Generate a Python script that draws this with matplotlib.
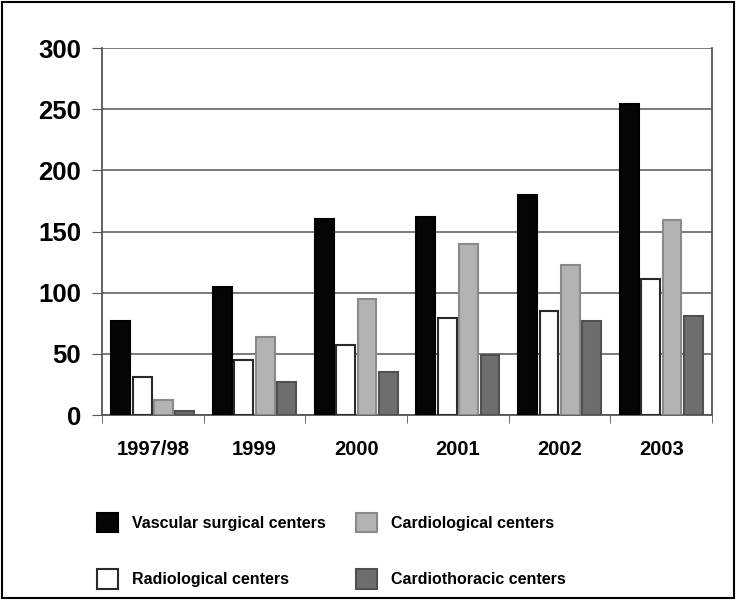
import numpy as np
import matplotlib.pyplot as plt
from matplotlib.patches import Rectangle

plt.rcParams['font.family'] = ['Liberation Sans', 'DejaVu Sans']
plt.rcParams['font.weight'] = 'bold'

years = ['1997/98', '1999', '2000', '2001', '2002', '2003']
series_names = ['Vascular surgical centers', 'Radiological centers',
                'Cardiological centers', 'Cardiothoracic centers']
vascular = [77, 105, 160, 162, 180, 254]
radiological = [31, 45, 57, 79, 85, 111]
cardiological = [12, 64, 95, 140, 123, 159]
cardiothoracic = [3, 27, 35, 49, 77, 81]
y_ticks = [0, 50, 100, 150, 200, 250, 300]

colors = ['#050505', '#ffffff', '#b3b3b3', '#6e6e6e']
edges = ['#000000', '#2a2a2a', '#8a8a8a', '#505050']

fig = plt.figure(figsize=(7.36, 6.0), dpi=100)
ax = fig.add_axes([0.1386, 0.3083, 0.829, 0.6117])

x = np.arange(len(years))
width = 0.185
step = 0.21
handles = []
for i, (vals, c, e) in enumerate(zip([vascular, radiological, cardiological, cardiothoracic], colors, edges)):
    b = ax.bar(x + (i - 1.5) * step, vals, width, color=c, edgecolor=e,
               linewidth=1.5, label=series_names[i], zorder=3)
    handles.append(b)

ax.set_xlim(-0.5, len(years) - 0.5)
ax.set_ylim(0, 300)
ax.set_yticks(y_ticks)
ax.set_yticklabels([str(t) for t in y_ticks], fontsize=18.5, fontweight='bold')
ax.set_xticks(x)
ax.set_xticklabels(years, fontsize=14.5, fontweight='bold')
ax.set_xticks(np.arange(-0.5, len(years)), minor=True)
ax.tick_params(axis='x', which='major', length=0, pad=18)
ax.tick_params(axis='x', which='minor', length=6, color='#555555')
ax.tick_params(axis='y', length=7, color='#555555', pad=8)
ax.yaxis.grid(True, color='#707070', linewidth=1.3, zorder=0)

ax.spines['top'].set_visible(False)
for s in ['left', 'right', 'bottom']:
    ax.spines[s].set_color('#555555')
    ax.spines[s].set_linewidth(1.3)

fig.legend(handles=handles, labels=series_names, ncol=2, frameon=False,
           loc='upper left', bbox_to_anchor=(97 / 736, 1 - 513 / 600),
           borderpad=0, borderaxespad=0,
           fontsize=11.5, handlelength=1.3, handleheight=1.5,
           columnspacing=1.9, labelspacing=2.3, handletextpad=0.9)

fig.patches.append(Rectangle((0.003, 0.003), 0.994, 0.994, transform=fig.transFigure,
                             fill=False, edgecolor='black', linewidth=1.5))

fig.savefig('out.png', dpi=100)
